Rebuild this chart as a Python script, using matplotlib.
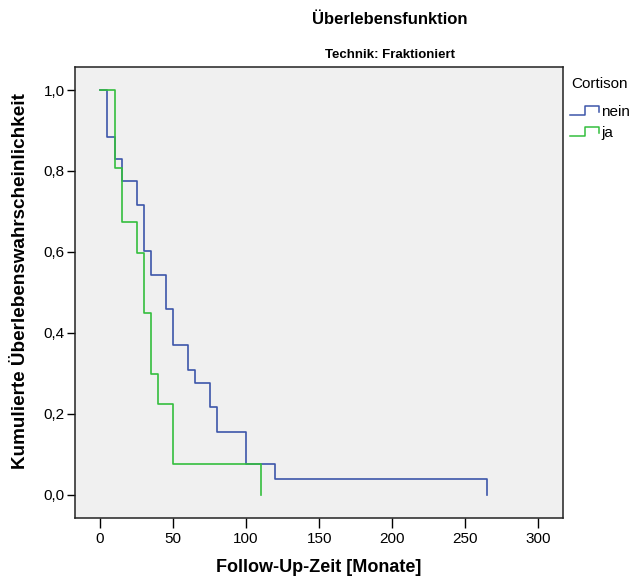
import matplotlib
matplotlib.use("Agg")
import matplotlib.pyplot as plt
from matplotlib.lines import Line2D
from matplotlib.legend_handler import HandlerBase
from matplotlib.ticker import FuncFormatter

# Data (Kaplan-Meier steps)
times_nein = [0, 5, 10, 15, 25, 30, 35, 45, 50, 60, 65, 75, 80, 100, 120, 265]
surv_nein = [1.0, 0.885, 0.83, 0.774, 0.717, 0.601, 0.544, 0.459, 0.37, 0.308,
             0.277, 0.216, 0.154, 0.077, 0.038, 0.0]
times_ja = [0, 10, 15, 25, 30, 35, 40, 50, 110]
surv_ja = [1.0, 0.808, 0.673, 0.598, 0.449, 0.299, 0.224, 0.075, 0.0]
groups = ["nein", "ja"]
x_ticks = [0, 50, 100, 150, 200, 250, 300]
y_ticks = [0.0, 0.2, 0.4, 0.6, 0.8, 1.0]

plt.rcParams['font.family'] = ['Liberation Sans', 'DejaVu Sans']

blue = "#3D56AA"
green = "#34BE3E"

fig = plt.figure(figsize=(6.31, 5.83), dpi=100)
ax = fig.add_axes([75 / 631, 1 - 517.7 / 583, (562.7 - 75) / 631, (517.7 - 66.7) / 583])
ax.set_facecolor("#F0F0F0")

ax.step(times_nein, surv_nein, where="post", color=blue, lw=1.2, label=groups[0])
ax.step(times_ja, surv_ja, where="post", color=green, lw=1.2, label=groups[1])

ax.set_xlim(-17.1, 316.7)
ax.set_ylim(-0.0568, 1.0576)
ax.set_xticks(x_ticks)
ax.set_yticks(y_ticks)
ax.yaxis.set_major_formatter(FuncFormatter(lambda v, p: f"{v:.1f}".replace(".", ",")))
ax.tick_params(axis="x", direction="out", length=7.5, width=1, labelsize=11, pad=3)
ax.tick_params(axis="y", direction="out", length=6, width=1, labelsize=11, pad=1.5)
for s in ax.spines.values():
    s.set_linewidth(1.1)
    s.set_color("#222222")

ax.set_xlabel("Follow-Up-Zeit [Monate]", fontsize=13, fontweight="bold", labelpad=9)
ax.set_ylabel("Kumulierte Überlebenswahrscheinlichkeit", fontsize=13.6, fontweight="bold")
ax.yaxis.set_label_coords(-0.095, 0.524)

fig.text(390 / 631, 1 - 20 / 583, "Überlebensfunktion", ha="center", va="center",
         fontsize=12, fontweight="bold")
fig.text(390 / 631, 1 - 55 / 583, "Technik: Fraktioniert", ha="center", va="center",
         fontsize=9.5, fontweight="bold")
fig.text(571 / 631, 1 - 84 / 583, "Cortison", ha="left", va="center", fontsize=11)


class StepHandler(HandlerBase):
    def create_artists(self, legend, orig_handle, xdescent, ydescent, width, height, fontsize, trans):
        x0 = -xdescent
        y0 = -ydescent
        xs = [x0, x0 + width * 0.5, x0 + width * 0.5, x0 + width, x0 + width]
        ys = [y0, y0, y0 + height, y0 + height, y0 + height * 0.3]
        ln = Line2D(xs, ys, color=orig_handle.get_color(), lw=1.1, transform=trans)
        return [ln]


handles, labels = ax.get_legend_handles_labels()
leg = fig.legend(handles, labels, loc="upper left",
                 bbox_to_anchor=(570 / 631, 1 - 105 / 583), frameon=False,
                 fontsize=11, handlelength=1.9, handleheight=0.45,
                 handletextpad=0.15, labelspacing=0.45, borderaxespad=0, borderpad=0,
                 handler_map={Line2D: StepHandler()})

fig.savefig("out.png", dpi=100)
